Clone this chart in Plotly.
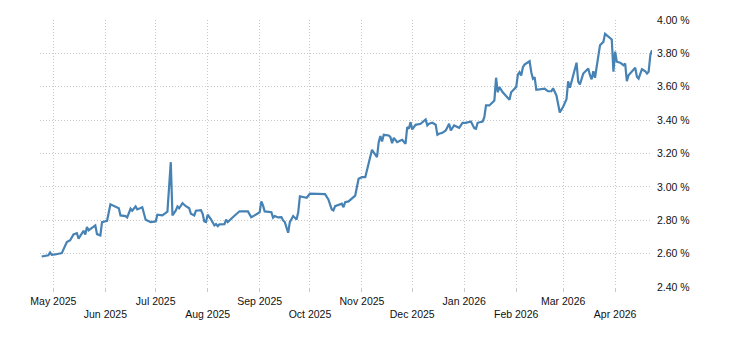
import plotly.graph_objects as go

dates = [
    "2025-04-24", "2025-04-28", "2025-04-29", "2025-04-30", "2025-05-02", "2025-05-06",
    "2025-05-09", "2025-05-11", "2025-05-13", "2025-05-15", "2025-05-16", "2025-05-19",
    "2025-05-20", "2025-05-21", "2025-05-22", "2025-05-24", "2025-05-26", "2025-05-27",
    "2025-05-29", "2025-05-30", "2025-06-02", "2025-06-04", "2025-06-09", "2025-06-10",
    "2025-06-13", "2025-06-14", "2025-06-16", "2025-06-17", "2025-06-19", "2025-06-20",
    "2025-06-23", "2025-06-25", "2025-06-28", "2025-07-01", "2025-07-02", "2025-07-05",
    "2025-07-08", "2025-07-10", "2025-07-11", "2025-07-13", "2025-07-14", "2025-07-15",
    "2025-07-17", "2025-07-19", "2025-07-21", "2025-07-22", "2025-07-24", "2025-07-25",
    "2025-07-28", "2025-07-29", "2025-07-30", "2025-07-31", "2025-08-01", "2025-08-03",
    "2025-08-05", "2025-08-06", "2025-08-07", "2025-08-08", "2025-08-11", "2025-08-12",
    "2025-08-13", "2025-08-16", "2025-08-20", "2025-08-25", "2025-08-27", "2025-08-29",
    "2025-09-01", "2025-09-02", "2025-09-03", "2025-09-04", "2025-09-08", "2025-09-09",
    "2025-09-10", "2025-09-12", "2025-09-14", "2025-09-15", "2025-09-16", "2025-09-18",
    "2025-09-19", "2025-09-21", "2025-09-23", "2025-09-24", "2025-09-25", "2025-09-29",
    "2025-10-01", "2025-10-10", "2025-10-12", "2025-10-14", "2025-10-15", "2025-10-16",
    "2025-10-20", "2025-10-21", "2025-10-22", "2025-10-24", "2025-10-27", "2025-10-28",
    "2025-10-30", "2025-11-01", "2025-11-03", "2025-11-05", "2025-11-07", "2025-11-10",
    "2025-11-11", "2025-11-12", "2025-11-13", "2025-11-14", "2025-11-17", "2025-11-18",
    "2025-11-19", "2025-11-20", "2025-11-22", "2025-11-24", "2025-11-25", "2025-11-27",
    "2025-11-28", "2025-11-29", "2025-11-30", "2025-12-01", "2025-12-03", "2025-12-06",
    "2025-12-09", "2025-12-10", "2025-12-11", "2025-12-13", "2025-12-15", "2025-12-16",
    "2025-12-17", "2025-12-19", "2025-12-21", "2025-12-23", "2025-12-24", "2025-12-26",
    "2025-12-29", "2025-12-31", "2026-01-02", "2026-01-05", "2026-01-07", "2026-01-08",
    "2026-01-09", "2026-01-12", "2026-01-13", "2026-01-14", "2026-01-16", "2026-01-19",
    "2026-01-20", "2026-01-21", "2026-01-22", "2026-01-24", "2026-01-26", "2026-01-28",
    "2026-01-29", "2026-02-01", "2026-02-02", "2026-02-03", "2026-02-04", "2026-02-05",
    "2026-02-06", "2026-02-09", "2026-02-10", "2026-02-11", "2026-02-12", "2026-02-13",
    "2026-02-18", "2026-02-20", "2026-02-22", "2026-02-23", "2026-02-25", "2026-02-27",
    "2026-03-01", "2026-03-03", "2026-03-04", "2026-03-05", "2026-03-06", "2026-03-09",
    "2026-03-10", "2026-03-11", "2026-03-13", "2026-03-16", "2026-03-17", "2026-03-18",
    "2026-03-19", "2026-03-20", "2026-03-23", "2026-03-24", "2026-03-25", "2026-03-26",
    "2026-03-28", "2026-03-30", "2026-03-31", "2026-04-01", "2026-04-02", "2026-04-04",
    "2026-04-06", "2026-04-07", "2026-04-08", "2026-04-09", "2026-04-13", "2026-04-14",
    "2026-04-15", "2026-04-17", "2026-04-19", "2026-04-20", "2026-04-21", "2026-04-22",
    "2026-04-23",
]

values = [
    2.583, 2.590, 2.607, 2.593, 2.595, 2.603,
    2.669, 2.680, 2.715, 2.723, 2.690, 2.737,
    2.715, 2.760, 2.739, 2.752, 2.769, 2.717,
    2.709, 2.789, 2.797, 2.896, 2.872, 2.829,
    2.825, 2.817, 2.869, 2.857, 2.883, 2.865,
    2.878, 2.803, 2.789, 2.793, 2.833, 2.829,
    2.852, 3.148, 2.829, 2.859, 2.883, 2.872,
    2.902, 2.884, 2.872, 2.839, 2.829, 2.857,
    2.860, 2.839, 2.793, 2.789, 2.833, 2.805,
    2.769, 2.777, 2.765, 2.775, 2.777, 2.803,
    2.789, 2.818, 2.854, 2.853, 2.818, 2.829,
    2.848, 2.913, 2.889, 2.853, 2.848, 2.815,
    2.825, 2.817, 2.818, 2.799, 2.789, 2.725,
    2.789, 2.825, 2.805, 2.848, 2.944, 2.935,
    2.959, 2.957, 2.925, 2.865, 2.859, 2.884,
    2.899, 2.878, 2.908, 2.913, 2.938, 2.948,
    3.049, 3.058, 3.058, 3.148, 3.222, 3.178,
    3.268, 3.304, 3.272, 3.312, 3.308, 3.298,
    3.262, 3.294, 3.268, 3.278, 3.282, 3.258,
    3.358, 3.348, 3.388, 3.344, 3.372, 3.378,
    3.404, 3.368, 3.378, 3.384, 3.372, 3.312,
    3.318, 3.324, 3.338, 3.378, 3.338, 3.368,
    3.354, 3.384, 3.384, 3.392, 3.352, 3.348,
    3.384, 3.392, 3.418, 3.488, 3.488, 3.518,
    3.654, 3.567, 3.598, 3.567, 3.543, 3.522,
    3.567, 3.598, 3.672, 3.687, 3.667, 3.717,
    3.733, 3.753, 3.687, 3.648, 3.657, 3.582,
    3.588, 3.573, 3.573, 3.591, 3.548, 3.446,
    3.480, 3.525, 3.633, 3.594, 3.630, 3.744,
    3.630, 3.614, 3.679, 3.709, 3.669, 3.645,
    3.693, 3.654, 3.849, 3.859, 3.869, 3.917,
    3.899, 3.883, 3.690, 3.810, 3.750, 3.744,
    3.729, 3.739, 3.633, 3.669, 3.714, 3.660,
    3.649, 3.705, 3.693, 3.679, 3.690, 3.789,
    3.819,
]

month_ticks = [
    "2025-05-01", "2025-06-01", "2025-07-01", "2025-08-01", "2025-09-01", "2025-10-01",
    "2025-11-01", "2025-12-01", "2026-01-01", "2026-02-01", "2026-03-01", "2026-04-01",
]
month_labels = [
    "May 2025", "Jun 2025", "Jul 2025", "Aug 2025", "Sep 2025", "Oct 2025",
    "Nov 2025", "Dec 2025", "Jan 2026", "Feb 2026", "Mar 2026", "Apr 2026",
]
y_ticks = [2.4, 2.6, 2.8, 3.0, 3.2, 3.4, 3.6, 3.8, 4.0]

x_range = ["2025-04-23", "2026-04-23"]
FONT = dict(family="Liberation Sans, Arial, sans-serif", size=10.5, color="#111111")
GRID = "#c8c8c8"

fig = go.Figure()
# invisible copy so the second-row label axis gets drawn
fig.add_trace(go.Scatter(
    x=dates, y=values, mode="lines", xaxis="x2", yaxis="y",
    line=dict(color="rgba(0,0,0,0)", width=0),
    hoverinfo="skip", showlegend=False,
))
fig.add_trace(go.Scatter(
    x=dates, y=values, mode="lines",
    line=dict(color="#4682b4", width=2.2),
    hoverinfo="x+y", showlegend=False,
))

row2_vals = month_ticks[1::2]
row2_text = month_labels[1::2]

fig.update_layout(
    width=730, height=340,
    margin=dict(l=40, r=78, t=20, b=53),
    paper_bgcolor="white", plot_bgcolor="white",
    font=FONT,
    xaxis=dict(
        type="date", range=x_range,
        tickmode="array", tickvals=month_ticks,
        ticktext=[t if i % 2 == 0 else "" for i, t in enumerate(month_labels)],
        showgrid=True, gridcolor=GRID, griddash="1px,2px", gridwidth=1,
        ticks="outside", ticklen=4, tickcolor=GRID, tickwidth=1,
        showline=False, zeroline=False, tickfont=FONT,
    ),
    xaxis2=dict(
        type="date", range=x_range, overlaying="x", anchor="y", side="bottom",
        tickmode="array", tickvals=row2_vals, ticktext=row2_text,
        showgrid=False, ticks="", showline=False, zeroline=False,
        tickfont=FONT, ticklabelstandoff=19,
    ),
    yaxis=dict(
        range=[2.4, 4.0], side="right",
        tickmode="array", tickvals=y_ticks,
        ticktext=[f"{v:.2f} %" for v in y_ticks],
        showgrid=True, gridcolor=GRID, griddash="1px,2px", gridwidth=1,
        ticks="", showline=False, zeroline=False, tickfont=FONT,
        ticklabelstandoff=4,
    ),
)

fig.write_html("out.html")
